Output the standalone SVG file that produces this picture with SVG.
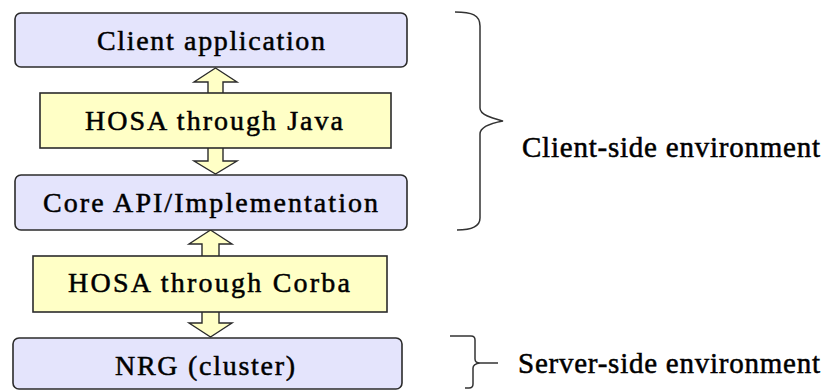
<svg xmlns="http://www.w3.org/2000/svg" width="836" height="390" viewBox="0 0 836 390">
<style>
.box{fill:#E4E4FC;stroke:#2b2b2b;stroke-width:1.6}
.ybox{fill:#FFFFC6;stroke:#2b2b2b;stroke-width:1.6}
.arrow{fill:#FFFFC6;stroke:#2b2b2b;stroke-width:1.4;stroke-linejoin:miter}
.brace{fill:none;stroke:#333;stroke-width:1.5}
text{font-family:"Times New Roman","Liberation Serif",Times,"DejaVu Serif",serif;fill:#000;stroke:#000;stroke-width:0.5}
.t{font-size:28px}
.lbl{font-size:29px}
</style>
<rect width="836" height="390" fill="#fff"/>
<g id="connectors">
  <polygon class="arrow" points="215.5,68 237,82 223,82 223,161 237,161 215.5,174 194,161 208,161 208,82 194,82"/>
  <polygon class="arrow" points="210.5,230 232,244 219,244 219,323 232,323 210.5,337 189,323 202,323 202,244 189,244"/>
</g>
<g id="client-app">
  <rect class="box" x="15" y="13" width="392" height="54" rx="6"/>
  <text class="t" x="97" y="50" textLength="228" lengthAdjust="spacing">Client application</text>
</g>
<g id="hosa-java">
  <rect class="ybox" x="40" y="93" width="351" height="55"/>
  <text class="t" x="85" y="130" textLength="258" lengthAdjust="spacing">HOSA through Java</text>
</g>
<g id="core-api">
  <rect class="box" x="15" y="175" width="392" height="55" rx="6"/>
  <text class="t" x="43" y="212" textLength="335" lengthAdjust="spacing">Core API/Implementation</text>
</g>
<g id="hosa-corba">
  <rect class="ybox" x="33" y="256" width="354" height="56"/>
  <text class="t" x="68" y="292" textLength="282" lengthAdjust="spacing">HOSA through Corba</text>
</g>
<g id="nrg">
  <rect class="box" x="13" y="338" width="389" height="51" rx="6"/>
  <text class="t" x="115" y="375" textLength="180" lengthAdjust="spacing">NRG (cluster)</text>
</g>
<g id="client-side">
  <path class="brace" d="M455,12 C472,12 480,15 480,26 L480,108 C480,115 492,118 503,121 C492,123 480,127 480,134 L480,218 C480,227 470,230 457,230"/>
  <text class="lbl" x="522" y="157" textLength="298" lengthAdjust="spacing">Client-side environment</text>
</g>
<g id="server-side">
  <path class="brace" d="M450,336 L471,336 Q475,336 475,340 L475,359 Q475,363 480,363 L498,363 M480,363 Q473,364 473,368 L473,384 Q473,388 469,388 L465,388"/>
  <text class="lbl" x="518" y="373" textLength="302" lengthAdjust="spacing">Server-side environment</text>
</g>
</svg>
